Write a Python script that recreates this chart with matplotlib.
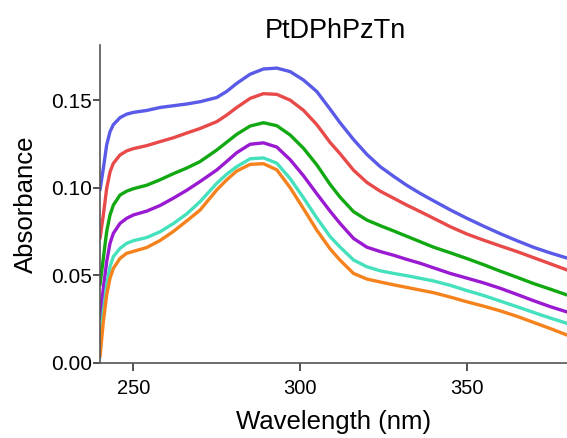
import matplotlib
matplotlib.use("Agg")
import matplotlib.pyplot as plt

plt.rcParams["font.family"] = ["Liberation Sans", "DejaVu Sans"]

# longueurs d'onde (nm) et absorbances
wavelength = [240, 241, 242, 243, 244, 246, 248, 250, 254, 258, 262, 266, 270,
              275, 278, 281, 285, 289, 293, 297, 301, 305, 309, 312, 316, 320,
              324, 328, 332, 336, 340, 345, 350, 355, 360, 365, 370, 375, 380]

abs_blue = [0.0987, 0.111, 0.1244, 0.132, 0.136, 0.140, 0.142, 0.143, 0.1441,
            0.1458, 0.1468, 0.1478, 0.1491, 0.1515, 0.155, 0.1596, 0.1648, 0.1678,
            0.1683, 0.1663, 0.1615, 0.1549, 0.1448, 0.137, 0.1275, 0.119, 0.112,
            0.1065, 0.1013, 0.0967, 0.0925, 0.0873, 0.0825, 0.078, 0.0737, 0.0697,
            0.0659, 0.0627, 0.0598]
abs_red = [0.071, 0.0844, 0.0996, 0.109, 0.1139, 0.1187, 0.121, 0.1223, 0.124,
           0.1263, 0.1285, 0.1312, 0.1338, 0.1377, 0.1415, 0.1458, 0.151, 0.1537,
           0.1533, 0.150, 0.1442, 0.136, 0.1258, 0.1193, 0.110, 0.103, 0.098,
           0.094, 0.090, 0.0863, 0.0825, 0.0777, 0.0735, 0.070, 0.0667, 0.0635,
           0.060, 0.0565, 0.053]
abs_green = [0.0444, 0.0596, 0.0749, 0.0844, 0.090, 0.0958, 0.098, 0.0994, 0.1014,
             0.1045, 0.108, 0.1112, 0.1149, 0.1215, 0.126, 0.1305, 0.1352, 0.1371,
             0.1354, 0.1301, 0.1225, 0.113, 0.1018, 0.0945, 0.0863, 0.0815, 0.0783,
             0.0753, 0.0722, 0.0691, 0.066, 0.0628, 0.0595, 0.056, 0.0523, 0.0488,
             0.0452, 0.042, 0.0387]
abs_purple = [0.0253, 0.0425, 0.0577, 0.0682, 0.0739, 0.0796, 0.0825, 0.0844,
              0.0866, 0.0898, 0.094, 0.0985, 0.1035, 0.1101, 0.115, 0.120, 0.1248,
              0.1256, 0.1232, 0.116, 0.1068, 0.0965, 0.0865, 0.0795, 0.071, 0.066,
              0.0635, 0.0614, 0.059, 0.0568, 0.0542, 0.051, 0.0483, 0.0456, 0.0425,
              0.039, 0.0354, 0.032, 0.029]
abs_cyan = [0.0101, 0.0291, 0.0444, 0.0549, 0.0606, 0.0653, 0.0682, 0.0697, 0.0715,
            0.0748, 0.0795, 0.085, 0.092, 0.1025, 0.1077, 0.112, 0.1165, 0.117,
            0.114, 0.1052, 0.0942, 0.0827, 0.072, 0.066, 0.0587, 0.0548, 0.0525,
            0.051, 0.0497, 0.0482, 0.0467, 0.0442, 0.0412, 0.0384, 0.0352, 0.032,
            0.0287, 0.0255, 0.0225]
abs_orange = [0.0034, 0.0234, 0.0387, 0.0482, 0.0539, 0.0596, 0.0625, 0.0636,
              0.0658, 0.0698, 0.075, 0.081, 0.0872, 0.0987, 0.1045, 0.1095, 0.1133,
              0.1137, 0.1102, 0.100, 0.088, 0.0757, 0.065, 0.0585, 0.051, 0.0478,
              0.0461, 0.0445, 0.043, 0.0415, 0.040, 0.0375, 0.0348, 0.0323, 0.0296,
              0.0265, 0.023, 0.0195, 0.0158]

series = [abs_blue, abs_red, abs_green, abs_purple, abs_cyan, abs_orange]
colors = ["#5A5AE8", "#E84A4A", "#12A812", "#9A1AD2", "#45E0BC", "#F5821C"]

fig = plt.figure(figsize=(5.67, 4.38), dpi=100)
ax = fig.add_axes([100 / 567, 1 - 362.7 / 438, 467 / 567, (362.7 - 45) / 438])

for ys, c in zip(series, colors):
    ax.plot(wavelength, ys, color=c, lw=2.4, solid_capstyle="round",
            solid_joinstyle="round")

ax.set_xlim(240, 380)
ax.set_ylim(0, 0.1815)
ax.set_xticks([250, 300, 350])
ax.set_yticks([0.00, 0.05, 0.10, 0.15])
ax.set_yticklabels(["0.00", "0.05", "0.10", "0.15"])

for s in ("top", "right"):
    ax.spines[s].set_visible(False)
for s in ("left", "bottom"):
    ax.spines[s].set_color("#555555")
    ax.spines[s].set_linewidth(1.2)
ax.tick_params(axis="x", length=5.8, width=1.2, color="#333333", labelsize=14.5, pad=6)
ax.tick_params(axis="y", length=5, width=1.2, color="#333333", labelsize=15, pad=1)

ax.set_xlabel("Wavelength (nm)", fontsize=18.5)
ax.set_ylabel("Absorbance", fontsize=18.5)
ax.xaxis.set_label_coords(0.5, -0.149)
ax.yaxis.set_label_coords(-0.133, 0.5)

fig.text(335 / 567, 1 - 31 / 438, "PtDPhPzTn", fontsize=19.5, ha="center", va="center")

fig.savefig("out.png", dpi=100)
